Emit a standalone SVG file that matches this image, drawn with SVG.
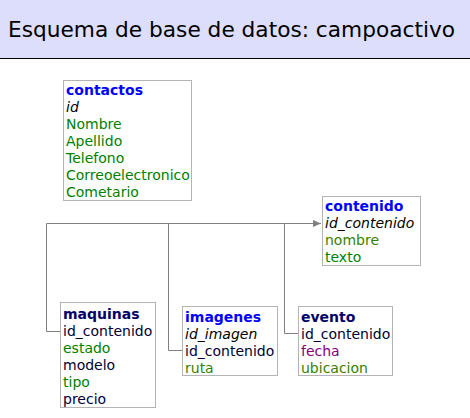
<svg xmlns="http://www.w3.org/2000/svg" width="470" height="418" viewBox="0 0 470 418">
<defs>
<style>
text{font-family:"DejaVu Sans",Verdana,sans-serif;font-size:14px}
.title{font-size:21.5px;fill:#000}
.box{fill:#fff;stroke:#b4b4b4;stroke-width:1}
.tn{font-weight:bold;fill:#0000ff}
.tf{font-weight:bold;fill:#000066}
.pk{font-style:italic;fill:#000}
.fk{fill:#000033}
.vc{fill:#008000}
.tx{fill:#388000}
.dt{fill:#800080}
.nm{fill:#000033}
.conn{fill:none;stroke:#808080;stroke-width:1}
</style>
<marker id="arr" markerWidth="8" markerHeight="8" refX="8" refY="4" orient="auto" markerUnits="userSpaceOnUse">
<path d="M0,0.5 L8,4 L0,7.5 Z" fill="#808080"/>
</marker>
</defs>
<rect x="0" y="0" width="470" height="58" fill="#ddddfc"/>
<line x1="0" y1="58.5" x2="470" y2="58.5" stroke="#000" stroke-width="1"/>
<text class="title" x="8" y="37" textLength="447" lengthAdjust="spacingAndGlyphs">Esquema de base de datos: campoactivo</text>

<g id="connectors">
<path class="conn" d="M61,331.5 H46.5 V223.5 H321" marker-end="url(#arr)"/>
<path class="conn" d="M183,350.5 H168.5 V223.5"/>
<path class="conn" d="M299,333.5 H284.5 V223.5"/>
</g>

<g id="contactos">
<rect class="box" x="63.5" y="80.5" width="128" height="120"/>
<text x="66" y="95" class="tn">contactos</text>
<text x="66" y="112" class="pk">id</text>
<text x="66" y="129" class="vc">Nombre</text>
<text x="66" y="146" class="vc">Apellido</text>
<text x="66" y="163" class="vc">Telefono</text>
<text x="66" y="180" class="vc">Correoelectronico</text>
<text x="66" y="197" class="vc">Cometario</text>
</g>

<g id="contenido">
<rect class="box" x="322.5" y="196.5" width="98" height="69"/>
<text x="325" y="211" class="tn">contenido</text>
<text x="325" y="228" class="pk">id_contenido</text>
<text x="325" y="245" class="tx">nombre</text>
<text x="325" y="262" class="vc">texto</text>
</g>

<g id="maquinas">
<rect class="box" x="60.5" y="302.5" width="95" height="105"/>
<text x="63" y="319" class="tf">maquinas</text>
<text x="63" y="336" class="fk">id_contenido</text>
<text x="63" y="353" class="vc">estado</text>
<text x="63" y="370" class="nm">modelo</text>
<text x="63" y="387" class="vc">tipo</text>
<text x="63" y="404" class="nm">precio</text>
</g>

<g id="imagenes">
<rect class="box" x="182.5" y="306.5" width="95" height="69"/>
<text x="185" y="322" class="tn">imagenes</text>
<text x="185" y="339" class="pk">id_imagen</text>
<text x="185" y="356" class="fk">id_contenido</text>
<text x="185" y="373" class="tx">ruta</text>
</g>

<g id="evento">
<rect class="box" x="298.5" y="306.5" width="94" height="69"/>
<text x="301" y="322" class="tf">evento</text>
<text x="301" y="339" class="fk">id_contenido</text>
<text x="301" y="356" class="dt">fecha</text>
<text x="301" y="373" class="tx">ubicacion</text>
</g>
</svg>
